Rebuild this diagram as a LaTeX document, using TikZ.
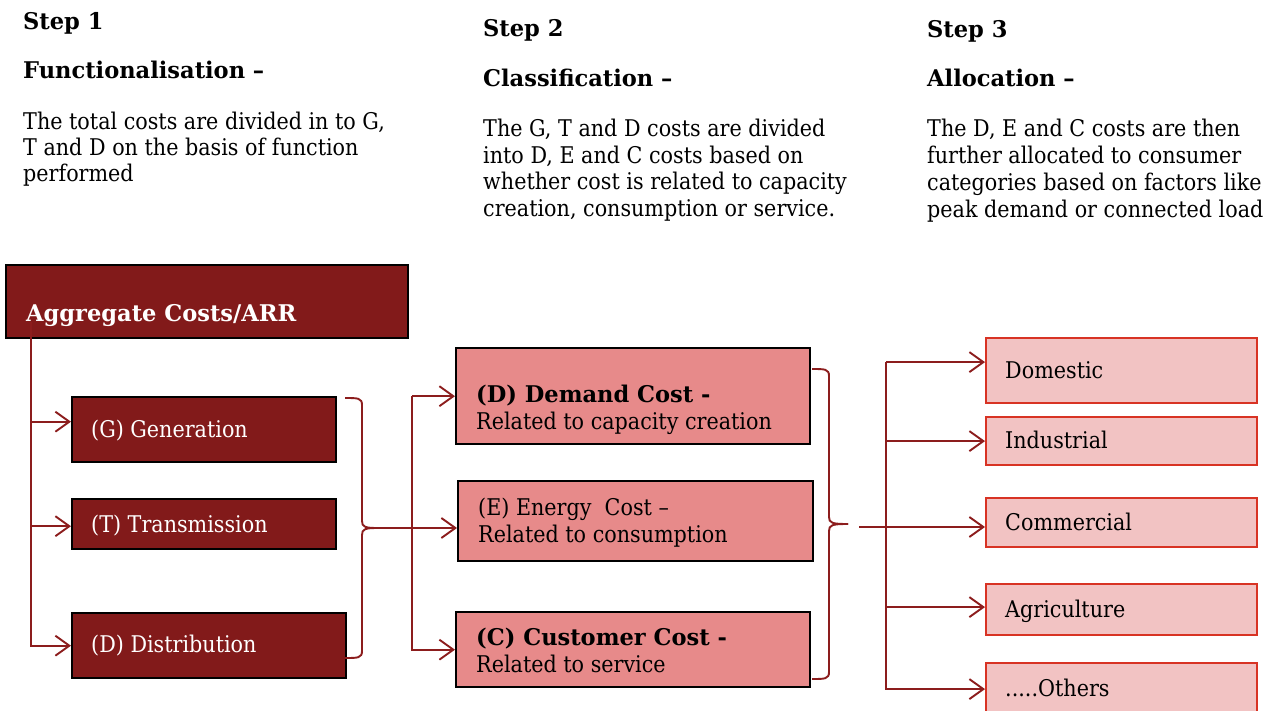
\documentclass[tikz,border=0pt]{standalone}
\usepackage{fontspec}
\setmainfont{DejaVu Serif}[FakeStretch=0.9, BoldFeatures={FakeStretch=0.98}]
\usetikzlibrary{arrows.meta,calc}

\definecolor{maroon}{HTML}{821A1A}
\definecolor{wire}{HTML}{8C1D1D}
\definecolor{salmon}{HTML}{E78A8A}
\definecolor{blush}{HTML}{F2C3C3}
\definecolor{vermil}{HTML}{D83324}

% multi-line text nodes are placed by the baseline of their last line
\tikzset{
  heading/.style={anchor=base west, inner sep=0pt, font=\bfseries\fontsize{23}{27}\selectfont},
  bodytext/.style={anchor=base west, inner sep=0pt, align=left, font=\fontsize{23}{27}\selectfont},
  boxlabel/.style={anchor=base west, inner sep=0pt, align=left, font=\fontsize{23}{27}\selectfont},
  darkbox/.style={draw=black, line width=2.4pt, fill=maroon, anchor=north west, inner sep=0pt},
  midbox/.style={draw=black, line width=2.4pt, fill=salmon, anchor=north west, inner sep=0pt},
  catbox/.style={draw=vermil, line width=2.2pt, fill=blush, anchor=north west, inner sep=0pt},
  link/.style={draw=wire, line width=1.9pt},
  feed/.style={link, -{Straight Barb[length=14pt,width=20pt]}},
}

% curly bracket opening to the left: end x, spine x, top y, middle y, bottom y, tip x
\newcommand\drawbrace[6]{%
  \draw[link] (#1,#3) .. controls ({#2-4},#3) and (#2,#3) .. (#2,{#3+7})
    -- (#2,{#4-7}) .. controls (#2,{#4-1}) and ({#2+3},#4) .. (#6,#4);
  \draw[link] (#6,#4) .. controls ({#2+3},#4) and (#2,{#4+1}) .. (#2,{#4+7})
    -- (#2,{#5-7}) .. controls (#2,#5) and ({#2-4},#5) .. (#1,#5);
}

\begin{document}
\begin{tikzpicture}[x=1pt,y=-1pt]
\useasboundingbox (0,0) rectangle (1266,711);
\clip (0,0) rectangle (1266,711);

% ---- step descriptions ----
\node[heading] (s1h) at (23,30) {Step 1};
\node[heading] (s1t) at (23,79) {Functionalisation –};
\node[bodytext, font=\fontsize{23}{26}\selectfont] (s1b) at (23,182)
  {The total costs are divided in to G,\\T and D on the basis of function\\performed};

\node[heading] (s2h) at (483,37) {Step 2};
\node[heading] (s2t) at (483,87) {Classification –};
\node[bodytext, font=\fontsize{23}{26.5}\selectfont] (s2b) at (483,216.5)
  {The G, T and D costs are divided\\into D, E and C costs based on\\whether cost is related to capacity\\creation, consumption or service.};

\node[heading] (s3h) at (927,38) {Step 3};
\node[heading] (s3t) at (927,87) {Allocation –};
\node[bodytext, font=\fontsize{23}{27}\selectfont] (s3b) at (927,218)
  {The D, E and C costs are then\\further allocated to consumer\\categories based on factors like\\peak demand or connected load};

% ---- functional split ----
\node[darkbox, minimum width=402pt, minimum height=73pt] (agg) at (5,264) {};
\node[darkbox, minimum width=264pt, minimum height=65pt] (gen) at (71,396) {};
\node[darkbox, minimum width=264pt, minimum height=50pt] (tra) at (71,498) {};
\node[darkbox, minimum width=274pt, minimum height=65pt] (dis) at (71,612) {};

\node[boxlabel, text=white, font=\bfseries\fontsize{23}{27}\selectfont] (agg-l) at (26,321) {Aggregate Costs/ARR};
\node[boxlabel, text=white] (gen-l) at (91,437) {(G) Generation};
\node[boxlabel, text=white] (tra-l) at (91,532) {(T) Transmission};
\node[boxlabel, text=white] (dis-l) at (91,652) {(D) Distribution};

% ---- cost classes ----
\node[midbox, minimum width=354pt, minimum height=96pt] (dem) at (455,347) {};
\node[midbox, minimum width=355pt, minimum height=80pt] (ene) at (457,480) {};
\node[midbox, minimum width=354pt, minimum height=75pt] (cus) at (455,611) {};

\node[boxlabel] (dem-l) at (476,429) {\textbf{(D) Demand Cost -}\\Related to capacity creation};
\node[boxlabel] (ene-l) at (478,542) {(E) Energy\ \ Cost –\\Related to consumption};
\node[boxlabel] (cus-l) at (476,672) {\textbf{(C) Customer Cost -}\\Related to service};

% ---- consumer categories ----
\node[catbox, minimum width=271pt, minimum height=65pt] (dom) at (985,337) {};
\node[catbox, minimum width=271pt, minimum height=48pt] (ind) at (985,416) {};
\node[catbox, minimum width=271pt, minimum height=49pt] (com) at (985,497) {};
\node[catbox, minimum width=271pt, minimum height=51pt] (agr) at (985,583) {};
\node[catbox, minimum width=271pt, minimum height=52pt] (oth) at (985,662) {};

\node[boxlabel] (dom-l) at (1005,378) {Domestic};
\node[boxlabel] (ind-l) at (1005,448) {Industrial};
\node[boxlabel] (com-l) at (1005,530) {Commercial};
\node[boxlabel] (agr-l) at (1005,617) {Agriculture};
\node[boxlabel] (oth-l) at (1005,696) {.....Others};

% ---- connectors: aggregate to G, T, D ----
\coordinate (trunk) at ($(agg.south west)+(26,-17)$);
\draw[feed] (trunk) |- ($(gen.west)+(0,-8)$);
\draw[feed] (trunk) |- ($(tra.west)+(0,2)$);
\draw[feed] (trunk) |- (dis.west);

% ---- G, T, D gathered into D, E, C ----
\drawbrace{345}{362}{398}{528}{658}{378}
\coordinate (tip1) at (378,528);
\draw[feed] (tip1) -- (tip1 -| ene.west);
\coordinate (b2) at ($(dem.west)+(-43,0)$);
\draw[feed] (b2) -- (dem.west);
\draw[feed] (b2) |- (cus.west);

% ---- D, E, C allocated to consumers ----
\drawbrace{812}{829}{369}{524}{679}{848}
\coordinate (tip2) at (859,527);
\draw[feed] (tip2) -- (tip2 -| com.west);
\coordinate (b3) at ($(dom.west)+(-99,-8.5)$);
\draw[feed] (b3) -- (b3 -| dom.west);
\draw[feed] (b3) |- (ind.west);
\draw[feed] (b3) |- ($(agr.west)+(0,-2.5)$);
\draw[feed] (b3) |- (oth.west);
\end{tikzpicture}
\end{document}
